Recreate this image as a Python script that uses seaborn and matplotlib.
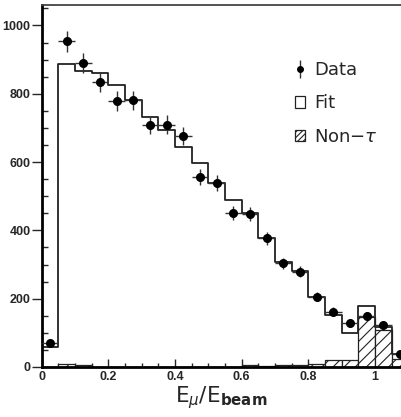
import numpy as np
import matplotlib
matplotlib.use("Agg")
import matplotlib.pyplot as plt
import seaborn as sns
from matplotlib.patches import Patch
from matplotlib.ticker import MultipleLocator, FixedLocator, FixedFormatter

sns.set_style("white")
plt.rcParams['font.family'] = ['DejaVu Sans']
plt.rcParams['hatch.linewidth'] = 0.8

# ---- data ----
bin_edges = [0.0, 0.05, 0.1, 0.15, 0.2, 0.25, 0.3, 0.35, 0.4, 0.45, 0.5, 0.55,
             0.6, 0.65, 0.7, 0.75, 0.8, 0.85, 0.9, 0.95, 1.0, 1.05, 1.1]
bin_centers = [0.025, 0.075, 0.125, 0.175, 0.225, 0.275, 0.325, 0.375, 0.425, 0.475, 0.525,
               0.575, 0.625, 0.675, 0.725, 0.775, 0.825, 0.875, 0.925, 0.975, 1.025, 1.075]
data_counts = [71, 954, 890, 835, 779, 781, 708, 710, 676, 557, 539,
               450, 448, 377, 303, 279, 206, 162, 128, 149, 123, 38]
data_errors = [8.4, 31, 30, 29, 28, 28, 27, 27, 26, 24, 23,
               21, 21, 19, 17, 17, 14, 13, 11, 12, 11, 6]
fit_counts = [57, 886, 866, 862, 827, 783, 733, 694, 643, 598, 539,
              489, 450, 378, 306, 281, 206, 152, 99, 178, 118, 38]
nontau_counts = [0, 10, 7, 0, 0, 0, 0, 0, 0, 0, 0,
                 0, 6, 4, 5, 6, 10, 19, 19, 145, 108, 22]
x_tick_values = [0, 0.2, 0.4, 0.6, 0.8, 1.0]
x_tick_labels = ['0', '0.2', '0.4', '0.6', '0.8', '1']
y_tick_values = [0, 200, 400, 600, 800, 1000]

fig = plt.figure(figsize=(4.01, 4.17), dpi=100)
ax = fig.add_axes([0.104, 0.12, 0.914, 0.868])

# Non-tau hatched histogram
sns.histplot(x=bin_centers, weights=nontau_counts, bins=bin_edges, element='bars',
             fill=True, ax=ax, linewidth=0.9)
for p in ax.patches:
    p.set_facecolor('white')
    p.set_edgecolor('#222222')
    p.set_hatch('///')
    p.set_alpha(1)

# Fit histogram (step outline)
sns.histplot(x=bin_centers, weights=fit_counts, bins=bin_edges, element='step',
             fill=False, color='#222222', linewidth=1.3, ax=ax)

# Data points
ax.errorbar(bin_centers, data_counts, xerr=0.025, yerr=data_errors, fmt='o',
            color='black', ms=5.5, ecolor='#333333', elinewidth=1.0, capsize=0, zorder=5)

ax.set_xlim(0, 1.1)
ax.set_ylim(0, 1060)

# ticks
ax.xaxis.set_major_locator(FixedLocator(x_tick_values))
ax.xaxis.set_major_formatter(FixedFormatter(x_tick_labels))
ax.xaxis.set_minor_locator(MultipleLocator(0.05))
ax.yaxis.set_major_locator(FixedLocator(y_tick_values))
ax.yaxis.set_minor_locator(MultipleLocator(50))
ax.tick_params(axis='x', which='major', direction='in', length=6, width=1, pad=3, bottom=True)
ax.tick_params(axis='x', which='minor', direction='in', length=3, width=1, bottom=True)
ax.tick_params(axis='y', which='major', direction='out', length=7, width=1, pad=1, left=True)
ax.tick_params(axis='y', which='minor', direction='in', length=4, width=1, left=True)
ax.tick_params(axis='both', which='major', labelsize=9, labelfontfamily='Liberation Sans')
for lab in ax.get_xticklabels() + ax.get_yticklabels():
    lab.set_fontweight('bold')

for s in ['left', 'bottom']:
    ax.spines[s].set_linewidth(2)
    ax.spines[s].set_color('black')
ax.spines['top'].set_linewidth(1.3)
ax.spines['top'].set_color('#444444')
ax.spines['right'].set_visible(False)

ax.set_ylabel('')
ax.set_xlabel(r'E$_{\mu}$/E$_{\mathbf{beam}}$', fontsize=15.5)
ax.xaxis.set_label_coords(0.489, -0.086)
ax.xaxis.label.set_va('center')

# legend
h_data = ax.errorbar([np.nan], [np.nan], yerr=[1], fmt='o', color='black', ms=4,
                     ecolor='#333333', elinewidth=1.0, capsize=0)
h_fit = Patch(facecolor='white', edgecolor='#222222', linewidth=0.9)
h_non = Patch(facecolor='white', edgecolor='#222222', hatch='//////', linewidth=0.9)
ax.legend([h_data, h_fit, h_non], ['Data', 'Fit', r'Non$-\tau$'], loc='upper left',
          bbox_to_anchor=(0.69, 0.845), frameon=False, fontsize=13, borderpad=0,
          borderaxespad=0, handlelength=0.6, handleheight=0.6, handletextpad=0.5,
          labelspacing=0.85)

fig.savefig('out.png', dpi=100)
